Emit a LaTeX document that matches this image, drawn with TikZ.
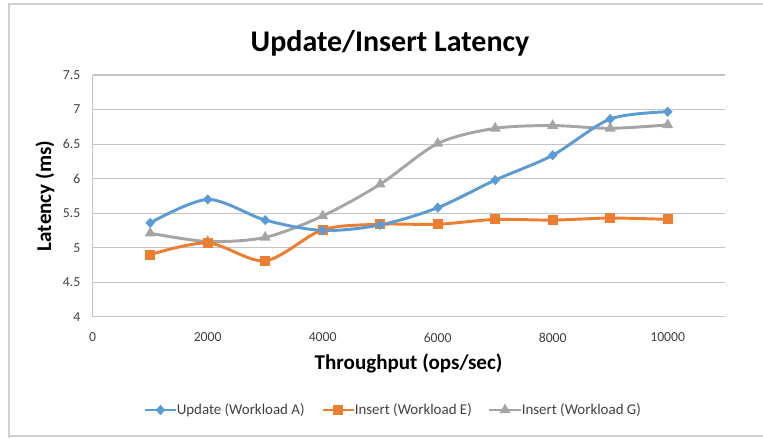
\documentclass[tikz,border=0pt]{standalone}
\usepackage{fontspec}
\setmainfont{Carlito}
\usetikzlibrary{shapes.geometric}
\definecolor{serA}{HTML}{5B9BD5}
\definecolor{serE}{HTML}{ED7D31}
\definecolor{serG}{HTML}{A5A5A5}
\definecolor{gridc}{HTML}{C4C4C4}
\definecolor{framec}{HTML}{CFCFCF}
\definecolor{labc}{HTML}{404040}

\begin{document}
\begin{tikzpicture}[x=0.75pt,y=-0.75pt,
  gridline/.style={draw=gridc, line width=0.8pt},
  ticklab/.style={font=\fontsize{10.3}{12}\selectfont, text=labc, inner sep=0pt},
  axtitle/.style={font=\bfseries\fontsize{15.8}{18}\selectfont, inner sep=0pt},
  legtext/.style={font=\fontsize{11.2}{13}\selectfont, text=labc, inner sep=0pt, anchor=west},
  serline/.style={line width=2.2pt, line cap=round, line join=round},
  dmark/.style={diamond, fill=serA, inner sep=0pt, minimum width=7.4pt, minimum height=7.8pt},
  smark/.style={rectangle, fill=serE, inner sep=0pt, minimum size=7.6pt},
  tmark/.style={regular polygon, regular polygon sides=3, fill=serG, inner sep=0pt, minimum size=9.6pt}
]
\useasboundingbox (0,0) rectangle (763,437);
\clip (0,0) rectangle (763,437);

% chart frame
\draw[framec, line width=1.6pt] (9,440) -- (9,4) -- (770,4);
\draw[framec, line width=1.6pt] (9,436) -- (770,436);

% title
\node[font=\bfseries\fontsize{22.5}{26}\selectfont, inner sep=0pt, anchor=base] (title) at (390,51.5) {Update/Insert Latency};

% horizontal grid lines and y tick labels
\foreach \k/\lab in {0/4,1/4.5,2/5,3/5.5,4/6,5/6.5,6/7,7/7.5}{
  \draw[gridline] (92.7,316.7-34.53*\k) -- (725,316.7-34.53*\k);
  \node[ticklab, anchor=east] (ylab\k) at (80.5,316.7-34.53*\k) {\lab};
}
\draw[gridline] (92.7,316.7) -- (92.7,75);

% x tick labels
\foreach \k/\lab in {0/0,1/2000,2/4000,3/6000,4/8000,5/10000}{
  \node[ticklab] (xlab\k) at (92.7+115*\k,337.5) {\lab};
}

% axis titles
\node[axtitle] (xtitle) at (408.5,363) {Throughput (ops/sec)};
\node[axtitle, rotate=90] (ytitle) at (45,196) {Latency (ms)};

% data area: x in thousands of ops/sec, y in ms above 4
\begin{scope}[shift={(92.7,316.7)}, x=43.125pt, y=51.75pt]
  \foreach \i/\v in {1/1.36,2/1.70,3/1.40,4/1.25,5/1.33,6/1.58,7/1.98,8/2.34,9/2.865,10/2.97}
    \coordinate (a\i) at (\i,\v);
  \foreach \i/\v in {1/0.90,2/1.07,3/0.81,4/1.26,5/1.34,6/1.34,7/1.41,8/1.40,9/1.43,10/1.41}
    \coordinate (e\i) at (\i,\v);
  \foreach \i/\v in {1/1.21,2/1.09,3/1.15,4/1.46,5/1.92,6/2.51,7/2.73,8/2.77,9/2.73,10/2.78}
    \coordinate (g\i) at (\i,\v);

  \draw[serline, serG] plot[smooth, tension=0.5] coordinates {(g1) (g2) (g3) (g4) (g5) (g6) (g7) (g8) (g9) (g10)};
  \draw[serline, serE] plot[smooth, tension=0.5] coordinates {(e1) (e2) (e3) (e4) (e5) (e6) (e7) (e8) (e9) (e10)};
  \draw[serline, serA] plot[smooth, tension=0.5] coordinates {(a1) (a2) (a3) (a4) (a5) (a6) (a7) (a8) (a9) (a10)};

  \foreach \i in {1,...,10}{
    \node[tmark] (mg\i) at (g\i) {};
    \node[smark] (me\i) at (e\i) {};
    \node[dmark] (ma\i) at (a\i) {};
  }
\end{scope}

% legend
\coordinate (la0) at (145,410); \coordinate (la1) at (176,410);
\coordinate (le0) at (322.5,410); \coordinate (le1) at (354,410);
\coordinate (lg0) at (489,410); \coordinate (lg1) at (521,410);
\draw[serline, serA, line cap=butt] (la0) -- (la1);
\node[dmark] (lma) at (160.5,410) {};
\node[legtext] (lta) at (176.5,410.5) {Update (Workload A)};
\draw[serline, serE, line cap=butt] (le0) -- (le1);
\node[smark] (lme) at (338.2,410) {};
\node[legtext] (lte) at (354.5,410.5) {Insert (Workload E)};
\draw[serline, serG, line cap=butt] (lg0) -- (lg1);
\node[tmark] (lmg) at (505,410) {};
\node[legtext] (ltg) at (521.5,410.5) {Insert (Workload G)};
\end{tikzpicture}
\end{document}
